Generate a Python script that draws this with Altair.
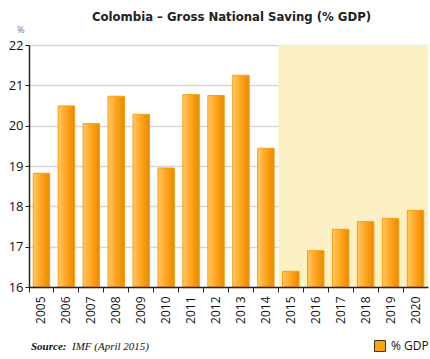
import altair as alt
import pandas as pd

years = [str(y) for y in range(2005, 2021)]
values = [18.82, 20.49, 20.05, 20.73, 20.28, 18.95, 20.77, 20.75, 21.25, 19.44,
          16.39, 16.90, 17.43, 17.62, 17.70, 17.90]
forecast_years = ["2015", "2016", "2017", "2018", "2019", "2020"]

df = pd.DataFrame({"year": years, "value": values})
shade = pd.DataFrame({"year": forecast_years, "lo": [16] * 6, "hi": [22] * 6})

W, H = 399, 242

xscale = alt.Scale(domain=years, paddingInner=0, paddingOuter=0)
yscale = alt.Scale(domain=[16, 22], nice=False, zero=False)

xaxis = alt.Axis(title=None, bandPosition=0, labelAngle=-90, labelFontSize=12,
                 labelFont="Open Sans", labelColor="#111111", labelPadding=4,
                 tickSize=5, tickColor="#222222", domainColor="#222222",
                 domainWidth=1.5, grid=False, labelAlign="right", labelBaseline="middle")
yaxis = alt.Axis(title=None, values=[16, 17, 18, 19, 20, 21, 22], labelFontSize=13,
                 labelFont="Open Sans", labelColor="#111111", tickSize=4,
                 tickColor="#222222", domainColor="#222222", domainWidth=1.5,
                 gridColor="#D6D6D6", gridWidth=1.5, labelPadding=2)

bg = alt.Chart(shade).mark_rect(color="#FBF0C3").encode(
    x=alt.X("year:O", scale=xscale, axis=xaxis, sort=years),
    y=alt.Y("lo:Q", scale=yscale, axis=yaxis),
    y2="hi:Q",
)

grad = alt.LinearGradient(
    gradient="linear", x1=0, y1=0, x2=1, y2=0,
    stops=[alt.GradientStop(offset=0, color="#FFC866"),
           alt.GradientStop(offset=0.5, color="#FFA41C"),
           alt.GradientStop(offset=1, color="#E88A00")],
)

bars = alt.Chart(df).mark_bar(color=grad, stroke="#F5A010", strokeWidth=1,
                              width=alt.RelativeBandSize(0.66)).encode(
    x=alt.X("year:O", scale=xscale, axis=xaxis, sort=years),
    y=alt.Y("value:Q", scale=yscale, axis=yaxis),
    y2=alt.datum(16),
)

title = alt.Chart(pd.DataFrame({"t": ["Colombia – Gross National Saving (% GDP)"]})).mark_text(
    fontSize=13, font="DejaVu Sans Condensed", fontWeight="bold", color="#222222",
    align="center", baseline="middle"
).encode(x=alt.value(W / 2 + 3), y=alt.value(-28), text="t:N")

pct = alt.Chart(pd.DataFrame({"t": ["%"]})).mark_text(
    fontSize=9, color="#777777", font="Open Sans", align="center", baseline="middle"
).encode(x=alt.value(-8), y=alt.value(-15), text="t:N")

src1 = alt.Chart(pd.DataFrame({"t": ["Source:"]})).mark_text(
    fontSize=11, font="Liberation Serif", fontStyle="italic", fontWeight="bold",
    color="#111111", align="left", baseline="middle"
).encode(x=alt.value(2), y=alt.value(302), text="t:N")

src2 = alt.Chart(pd.DataFrame({"t": ["IMF (April 2015)"]})).mark_text(
    fontSize=11, font="Liberation Serif", fontStyle="italic",
    color="#111111", align="left", baseline="middle"
).encode(x=alt.value(43), y=alt.value(302), text="t:N")

leg_sq = alt.Chart(pd.DataFrame({"t": ["% GDP"]})).mark_square(
    size=120, fill="#FFA500", stroke="#333333", strokeWidth=1, opacity=1, filled=True
).encode(x=alt.value(351), y=alt.value(301))

leg_t = alt.Chart(pd.DataFrame({"t": ["% GDP"]})).mark_text(
    fontSize=12, font="Open Sans", color="#111111", align="left", baseline="middle"
).encode(x=alt.value(362), y=alt.value(301), text="t:N")

chart = alt.layer(bg, bars, title, pct, src1, src2, leg_sq, leg_t).properties(
    width=W, height=H,
    autosize=alt.AutoSizeParams(type="none"),
    padding={"left": 29, "top": 45, "right": 2, "bottom": 72},
).configure_view(stroke=None)

chart.save("out.html", embed_options={"renderer": "svg", "actions": False})
